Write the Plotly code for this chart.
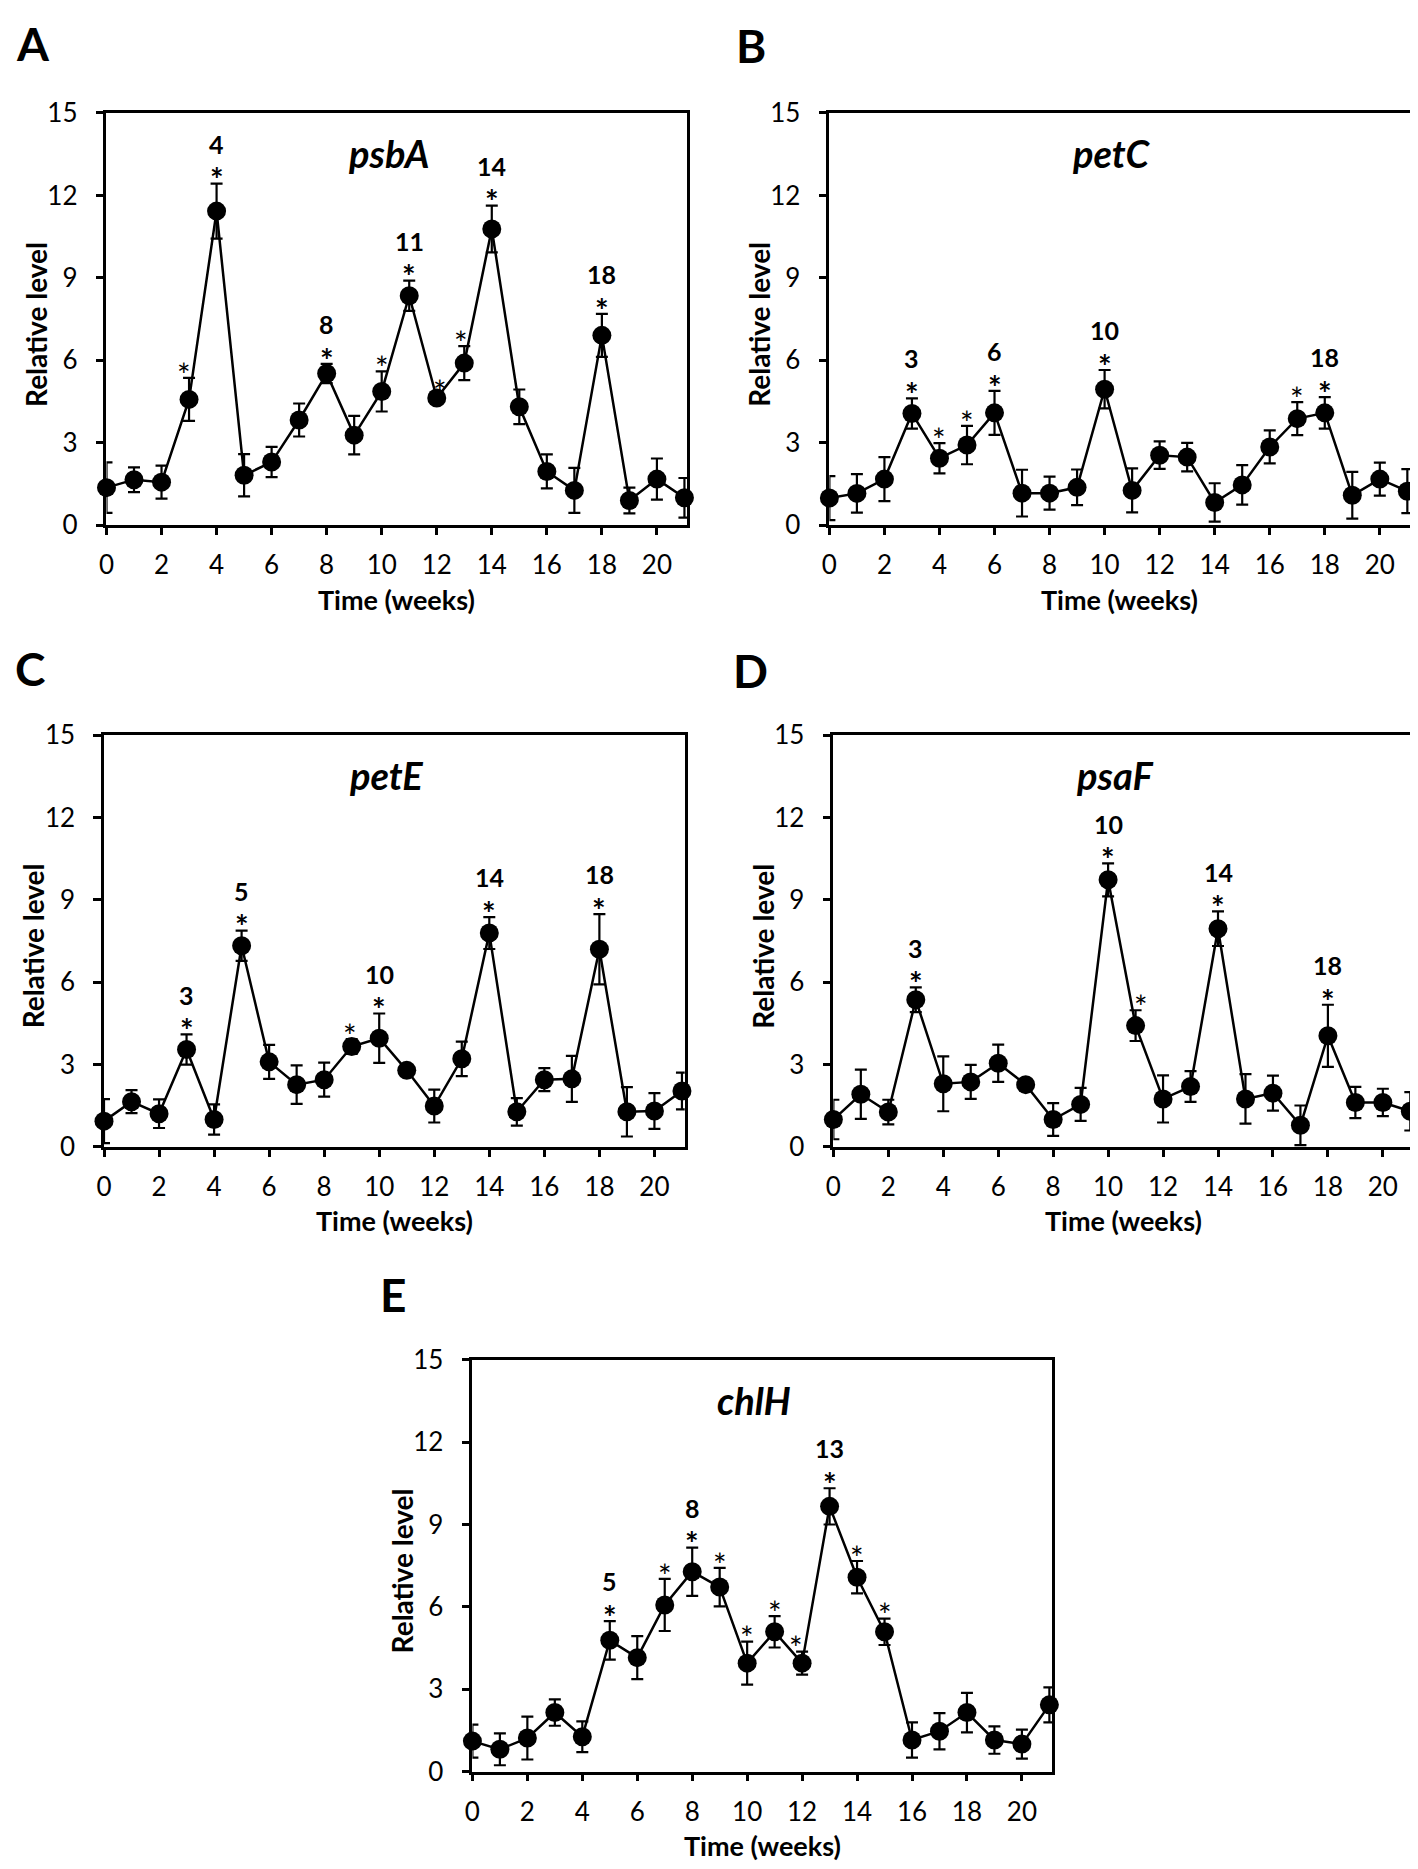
import plotly.graph_objects as go

# ---------------- data ----------------
weeks = list(range(22))
x_tickvals = [0, 2, 4, 6, 8, 10, 12, 14, 16, 18, 20]
y_tickvals = [0, 3, 6, 9, 12, 15]

psbA_mean = [1.37, 1.66, 1.57, 4.58, 11.43, 1.82, 2.30, 3.83, 5.52, 3.28, 4.87, 8.35, 4.63, 5.90, 10.78, 4.31, 1.96, 1.27, 6.91, 0.90, 1.68, 1.00]
psbA_err = [0.92, 0.45, 0.60, 0.78, 1.00, 0.77, 0.55, 0.60, 0.35, 0.70, 0.73, 0.55, 0.10, 0.62, 0.85, 0.63, 0.62, 0.82, 0.78, 0.47, 0.75, 0.72]
psbA_stars = [3, 4, 8, 10, 11, 12, 13, 14, 18]
psbA_labels = [4, 8, 11, 14, 18]

petC_mean = [0.99, 1.16, 1.68, 4.07, 2.44, 2.92, 4.09, 1.17, 1.17, 1.38, 4.95, 1.27, 2.55, 2.48, 0.83, 1.47, 2.85, 3.88, 4.09, 1.09, 1.68, 1.24]
petC_err = [0.80, 0.70, 0.80, 0.55, 0.55, 0.70, 0.80, 0.85, 0.60, 0.65, 0.70, 0.80, 0.50, 0.52, 0.70, 0.72, 0.60, 0.60, 0.57, 0.85, 0.60, 0.80]
petC_stars = [3, 4, 5, 6, 10, 17, 18]
petC_labels = [3, 6, 10, 18]

petE_mean = [0.94, 1.65, 1.21, 3.55, 1.00, 7.33, 3.10, 2.27, 2.45, 3.66, 3.96, 2.79, 1.49, 3.21, 7.79, 1.28, 2.45, 2.48, 7.20, 1.28, 1.31, 2.04]
petE_err = [0.80, 0.42, 0.52, 0.55, 0.55, 0.55, 0.62, 0.70, 0.62, 0.27, 0.90, 0.12, 0.60, 0.63, 0.58, 0.50, 0.42, 0.84, 1.28, 0.90, 0.65, 0.67]
petE_stars = [3, 5, 9, 10, 14, 18]
petE_labels = [3, 5, 10, 14, 18]

psaF_mean = [1.00, 1.92, 1.27, 5.36, 2.30, 2.37, 3.05, 2.27, 1.00, 1.55, 9.73, 4.42, 1.75, 2.20, 7.95, 1.75, 1.96, 0.79, 4.05, 1.62, 1.62, 1.30]
psaF_err = [0.72, 0.90, 0.45, 0.45, 1.00, 0.62, 0.68, 0.10, 0.60, 0.60, 0.60, 0.56, 0.86, 0.56, 0.63, 0.90, 0.64, 0.72, 1.13, 0.57, 0.50, 0.70]
psaF_stars = [3, 10, 11, 14, 18]
psaF_labels = [3, 10, 14, 18]

chlH_mean = [1.11, 0.81, 1.22, 2.15, 1.27, 4.78, 4.15, 6.07, 7.28, 6.72, 3.95, 5.09, 3.95, 9.66, 7.08, 5.09, 1.15, 1.47, 2.15, 1.15, 1.00, 2.43]
chlH_err = [0.60, 0.58, 0.78, 0.48, 0.56, 0.70, 0.78, 0.95, 0.88, 0.70, 0.78, 0.57, 0.42, 0.66, 0.59, 0.48, 0.64, 0.66, 0.72, 0.50, 0.53, 0.64]
chlH_stars = [5, 7, 8, 9, 10, 11, 12, 13, 14, 15]
chlH_labels = [5, 8, 13]

# ---------------- layout helpers ----------------
W, H = 1418, 1869
FONT = "Lato, Carlito, Calibri, sans-serif"
XMAX = 21.1

panels = [
    dict(letter="A", gene="psbA", mean=psbA_mean, err=psbA_err, stars=psbA_stars, labels=psbA_labels,
         box=(91, 89.5, 675, 509), letter_pos=(17, 19), shift={3: -5, 12: 3, 13: -3}),
    dict(letter="B", gene="petC", mean=petC_mean, err=petC_err, stars=petC_stars, labels=petC_labels,
         box=(818, 89.5, 1402, 509), letter_pos=(739, 21), shift={}),
    dict(letter="C", gene="petE", mean=petE_mean, err=petE_err, stars=petE_stars, labels=petE_labels,
         box=(88.5, 722.5, 672.5, 1141.5), letter_pos=(14, 655), shift={9: -2}),
    dict(letter="D", gene="psaF", mean=psaF_mean, err=psaF_err, stars=psaF_stars, labels=psaF_labels,
         box=(822, 722.5, 1405, 1141.5), letter_pos=(739, 657), shift={11: 5}),
    dict(letter="E", gene="chlH", mean=chlH_mean, err=chlH_err, stars=chlH_stars, labels=chlH_labels,
         box=(459, 1358, 1042, 1777), letter_pos=(379, 1292), shift={12: -6}),
]

fig = go.Figure()
annotations = []

def px(x):
    return x / W

def py(y):
    return 1 - y / H

for i, p in enumerate(panels):
    n = i + 1
    xa = "x" if n == 1 else f"x{n}"
    ya = "y" if n == 1 else f"y{n}"
    l, t, r, b = p["box"]

    # line + error bars (clipped to plot area)
    fig.add_trace(go.Scatter(
        x=weeks, y=p["mean"], mode="lines",
        line=dict(color="black", width=2.5),
        error_y=dict(type="data", array=p["err"], visible=True, color="black", thickness=2.2, width=6),
        xaxis=xa, yaxis=ya, showlegend=False, cliponaxis=True, hoverinfo="skip"))
    # markers on top (not clipped)
    fig.add_trace(go.Scatter(
        x=weeks, y=p["mean"], mode="markers",
        marker=dict(color="black", size=19, line=dict(width=0)),
        xaxis=xa, yaxis=ya, showlegend=False, cliponaxis=False))

    axis_common = dict(showgrid=False, zeroline=False, showline=True, mirror=True,
                       linecolor="black", linewidth=2.5, ticks="outside", tickcolor="black",
                       tickwidth=2.5, tickfont=dict(family=FONT, size=26, color="black"))
    fig.layout[("xaxis" if n == 1 else f"xaxis{n}")] = dict(
        domain=[px(l), px(r)], anchor=ya, range=[0, XMAX], tickvals=x_tickvals,
        ticklen=7, ticklabelstandoff=8, **axis_common)
    fig.layout[("yaxis" if n == 1 else f"yaxis{n}")] = dict(
        domain=[py(b), py(t)], anchor=xa, range=[0, 15], tickvals=y_tickvals,
        ticklen=8, ticklabelstandoff=13, **axis_common)

    # gene title
    annotations.append(dict(text=f"<b><i>{p['gene']}</i></b>", x=10.25, y=13.55, xref=xa, yref=ya,
                            showarrow=False, font=dict(family=FONT, size=38, color="black"),
                            xanchor="center", yanchor="middle"))
    # significance marks
    for k in p["stars"]:
        top = p["mean"][k] + p["err"][k]
        bold = k in p["labels"]
        star = "<b>*</b>" if bold else "*"
        annotations.append(dict(text=star, x=weeks[k], y=top + 0.5, xref=xa, yref=ya,
                                showarrow=False, xshift=p["shift"].get(k, 0), yshift=-10,
                                font=dict(family=FONT, size=32, color="black"),
                                xanchor="center", yanchor="middle"))
        if bold:
            annotations.append(dict(text=f"<b>{weeks[k]}</b>", x=weeks[k], y=top + 1.45,
                                    xref=xa, yref=ya, showarrow=False,
                                    font=dict(family=FONT, size=25, color="black"),
                                    xanchor="center", yanchor="middle"))
    # axis titles
    annotations.append(dict(text="<b>Relative level</b>", x=px(l - 71), y=py((t + b) / 2 + 5),
                            xref="paper", yref="paper", showarrow=False, textangle=-90,
                            font=dict(family=FONT, size=28, color="black"),
                            xanchor="center", yanchor="middle"))
    annotations.append(dict(text="<b>Time (weeks)</b>", x=px((l + r) / 2), y=py(b + 75),
                            xref="paper", yref="paper", showarrow=False,
                            font=dict(family=FONT, size=27, color="black"),
                            xanchor="center", yanchor="middle"))
    # panel letter
    lx, ly = p["letter_pos"]
    annotations.append(dict(text=f"<b>{p['letter']}</b>", x=px(lx), y=py(ly),
                            xref="paper", yref="paper", showarrow=False,
                            font=dict(family=FONT, size=46, color="black"),
                            xanchor="center", yanchor="middle"))

fig.update_layout(
    width=W, height=H, autosize=False,
    margin=dict(l=0, r=0, t=0, b=0),
    paper_bgcolor="white", plot_bgcolor="white",
    annotations=annotations,
    font=dict(family=FONT, color="black"),
)

fig.write_html("out.html")
